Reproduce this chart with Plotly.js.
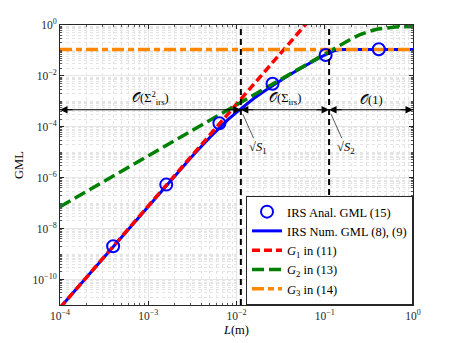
<!DOCTYPE html>
<html>
<head>
<meta charset="utf-8">
<script src="https://cdn.plot.ly/plotly-3.0.1.min.js"></script>
<style>
  html, body { margin: 0; padding: 0; background: #fff; }
  #chart { width: 457px; height: 343px; }
</style>
</head>
<body>
<div id="chart"></div>
<script>
// IRS numerical GML (8), (9)
const numL = [1e-4, 3.16e-4, 1e-3, 3.16e-3, 5.01e-3, 6.31e-3, 7.94e-3, 1e-2, 1.26e-2, 1.58e-2,
              2.0e-2, 2.51e-2, 3.16e-2, 3.98e-2, 5.01e-2, 6.31e-2, 7.94e-2, 0.1, 0.112, 0.126,
              0.141, 0.158, 0.25, 0.5, 1];
const numG = [7.76e-12, 7.76e-10, 7.76e-8, 7.08e-6, 3.89e-5, 8.71e-5, 1.86e-4, 3.72e-4, 7.24e-4, 1.32e-3,
              2.34e-3, 3.98e-3, 6.61e-3, 1.10e-2, 1.74e-2, 2.82e-2, 4.37e-2, 6.61e-2, 7.94e-2, 9.55e-2,
              0.107, 0.110, 0.110, 0.110, 0.110];

// IRS analytical GML (15), markers
const analL = [4e-4, 1.6e-3, 6.4e-3, 2.56e-2, 0.1024, 0.4096];
const analG = [2.04e-9, 5.37e-7, 1.38e-4, 4.9e-3, 6.6e-2, 0.111];

// G1 in (11)
const g1L = [1e-4, 1e-3, 1e-2, 3.16e-2, 7e-2];
const g1G = [7.76e-12, 7.76e-8, 7.76e-4, 7.76e-2, 1.86];

// G2 in (13)
const g2L = [1e-4, 1e-3, 1e-2, 3.16e-2, 6.31e-2, 7.94e-2, 0.1, 0.126, 0.158, 0.2,
             0.251, 0.316, 0.398, 0.501, 0.631, 0.794, 1];
const g2G = [7.24e-8, 7.24e-6, 7.24e-4, 7.24e-3, 3.02e-2, 4.79e-2, 7.59e-2, 0.120, 0.191, 0.288,
             0.417, 0.562, 0.692, 0.776, 0.832, 0.861, 0.871];

// G3 in (14)
const g3L = [1e-4, 1];
const g3G = [0.11, 0.11];

// breakpoints and region arrows
const sqrtS1 = 0.0112;
const sqrtS2 = 0.112;
const arrowY = 4.68e-4;
const regionLabels = ['𝒪(Σ<sup>2</sup><sub>irs</sub>)', '𝒪(Σ<sub>irs</sub>)', '𝒪(1)'];

const xTicks = [1e-4, 1e-3, 1e-2, 1e-1, 1];
const xTickText = ['10<sup>−4</sup>', '10<sup>−3</sup>', '10<sup>−2</sup>', '10<sup>−1</sup>', '10<sup>0</sup>'];
const yTicks = [1e-10, 1e-8, 1e-6, 1e-4, 1e-2, 1];
const yTickText = ['10<sup>−10</sup>', '10<sup>−8</sup>', '10<sup>−6</sup>', '10<sup>−4</sup>', '10<sup>−2</sup>', '10<sup>0</sup>'];

const FONT = 'Liberation Serif, DejaVu Serif, serif';
const AXC = '#262626';

function minorVals(lo, hi) {
    const v = [];
    for (let e = lo; e < hi; e++) {
        for (let k = 1; k <= 9; k++) v.push(k * Math.pow(10, e));
    }
    return v;
}

const traces = [
    {
        x: numL, y: numG, type: 'scatter', mode: 'lines',
        name: 'IRS Num. GML (8), (9)', legendrank: 2,
        line: { color: '#0000ff', width: 3 }
    },
    {
        x: g1L, y: g1G, type: 'scatter', mode: 'lines',
        name: '<i>G</i><sub>1</sub> in (11)', legendrank: 3,
        line: { color: '#ff0000', width: 3.5, dash: '8px,4px' }
    },
    {
        x: g2L, y: g2G, type: 'scatter', mode: 'lines',
        name: '<i>G</i><sub>2</sub> in (13)', legendrank: 4,
        line: { color: '#008000', width: 3.5, dash: '12px,5px' }
    },
    {
        x: g3L, y: g3G, type: 'scatter', mode: 'lines',
        name: '<i>G</i><sub>3</sub> in (14)', legendrank: 5,
        line: { color: '#ff8800', width: 3.5, dash: '12px,4px,6px,4px' }
    },
    {
        x: analL, y: analG, type: 'scatter', mode: 'markers',
        name: 'IRS Anal. GML (15)', legendrank: 1,
        marker: { symbol: 'circle-open', size: 12, color: '#0000ff', line: { width: 2, color: '#0000ff' } }
    }
];

// arrowheads along the horizontal region line
const heads = [
    { at: 1e-4, dir: 1 }, { at: sqrtS1, dir: -1 }, { at: sqrtS1, dir: 1 },
    { at: sqrtS2, dir: -1 }, { at: sqrtS2, dir: 1 }, { at: 1, dir: -1 }
];
const annotations = heads.map(h => ({
    x: Math.log10(h.at), y: Math.log10(arrowY), xref: 'x', yref: 'y',
    ax: 14 * h.dir, ay: 0, text: '', showarrow: true,
    arrowhead: 2, arrowsize: 1.5, arrowwidth: 1, arrowcolor: '#000'
}));

const bounds = [1e-4, sqrtS1, sqrtS2, 1];
regionLabels.forEach((t, i) => {
    annotations.push({
        x: (Math.log10(bounds[i]) + Math.log10(bounds[i + 1])) / 2,
        y: Math.log10(arrowY), xref: 'x', yref: 'y',
        text: t, showarrow: false, yanchor: 'bottom', yshift: 1,
        font: { family: FONT, size: 12.5, color: '#000' }
    });
});

[[sqrtS1, '√<i>S</i><sub>1</sub>'], [sqrtS2, '√<i>S</i><sub>2</sub>']].forEach(([s, t]) => {
    annotations.push({
        x: Math.log10(s), y: Math.log10(arrowY), xref: 'x', yref: 'y',
        ax: 17, ay: 38, text: t, showarrow: true, arrowhead: 0,
        arrowwidth: 0.8, arrowcolor: '#333', standoff: 5,
        font: { family: FONT, size: 12.5, color: '#000' }
    });
});

const shapes = [
    { type: 'line', xref: 'x', yref: 'paper', x0: sqrtS1, x1: sqrtS1, y0: 0, y1: 1,
      line: { color: '#000', width: 2, dash: '6px,4px' } },
    { type: 'line', xref: 'x', yref: 'paper', x0: sqrtS2, x1: sqrtS2, y0: 0, y1: 1,
      line: { color: '#000', width: 2, dash: '6px,4px' } },
    { type: 'line', xref: 'paper', yref: 'y', x0: 0, x1: 1, y0: arrowY, y1: arrowY,
      line: { color: '#000', width: 1 } }
];

const axisCommon = {
    type: 'log',
    showline: true, mirror: 'ticks', linecolor: AXC, linewidth: 1,
    ticks: 'inside', ticklen: 4, tickcolor: AXC,
    tickmode: 'array',
    showgrid: true, gridcolor: '#e6e6e6', gridwidth: 1,
    zeroline: false,
    tickfont: { family: FONT, size: 11.5, color: '#262626' }
};

const minorCommon = {
    tickmode: 'array', ticks: 'inside', ticklen: 2, tickcolor: '#555',
    showgrid: true, gridcolor: '#e4e4e4', griddash: 'dot', gridwidth: 1
};

const layout = {
    width: 457, height: 343,
    margin: { l: 60, r: 44, t: 25, b: 38 },
    paper_bgcolor: '#fff', plot_bgcolor: '#fff',
    font: { family: FONT, color: '#000' },
    xaxis: Object.assign({}, axisCommon, {
        range: [-4, 0], tickvals: xTicks, ticktext: xTickText,
        minor: Object.assign({ tickvals: minorVals(-4, 0) }, minorCommon),
        title: { text: '<i>L</i>(m)', font: { family: FONT, size: 12.5 }, standoff: 4 }
    }),
    yaxis: Object.assign({}, axisCommon, {
        range: [-11, 0], tickvals: yTicks, ticktext: yTickText,
        minor: Object.assign({ tickvals: minorVals(-11, 0) }, minorCommon),
        title: { text: 'GML', font: { family: FONT, size: 12.5 }, standoff: 6 }
    }),
    legend: {
        x: 1, xanchor: 'right', y: 0, yanchor: 'bottom',
        bgcolor: '#fff', bordercolor: AXC, borderwidth: 1,
        font: { family: FONT, size: 12.5, color: '#000' },
        tracegroupgap: 0
    },
    shapes: shapes,
    annotations: annotations,
    showlegend: true
};

Plotly.newPlot('chart', traces, layout, { displayModeBar: false, staticPlot: true });
</script>
</body>
</html>
